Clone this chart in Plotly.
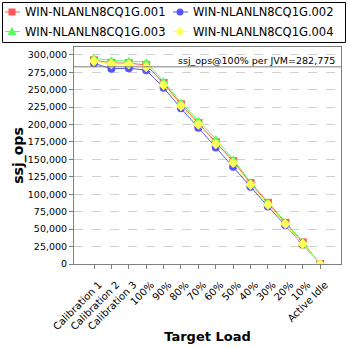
import plotly.graph_objects as go

categories = ["Calibration 1", "Calibration 2", "Calibration 3", "100%", "90%", "80%", "70%",
              "60%", "50%", "40%", "30%", "20%", "10%", "Active Idle"]
series_names = ["WIN-NLANLN8CQ1G.001", "WIN-NLANLN8CQ1G.002", "WIN-NLANLN8CQ1G.003", "WIN-NLANLN8CQ1G.004"]
s001 = [292000, 288500, 288000, 285500, 259500, 229000, 202000, 175000, 147500, 116000, 87700, 59000, 31000, 0]
s002 = [287800, 280000, 280800, 278000, 252700, 223200, 195500, 167000, 139500, 110700, 82500, 55500, 27700, 0]
s003 = [295000, 292000, 291200, 289500, 262000, 231500, 205500, 179000, 150000, 117300, 89000, 60000, 31500, 0]
s004 = [290800, 286800, 286300, 282500, 256500, 226500, 200000, 172000, 145000, 113500, 85000, 57500, 28700, 0]
ref_value = 282775
ref_label = "ssj_ops@100% per JVM=282,775"
y_ticks = list(range(0, 300001, 25000))

colors = ["#FF5555", "#5555FF", "#55FF55", "#FFFF55"]
symbols = ["square", "circle", "triangle-up", "diamond"]
data = [s001, s002, s003, s004]

W, H = 348, 348
ML, MR, MT, MB = 74, 7, 47, 84
PW, PH = W - ML - MR, H - MT - MB


def px(x):
    return (x - ML) / PW


def py(y):
    return (H - MB - y) / PH


fig = go.Figure()
for name, vals, c, s in zip(series_names, data, colors, symbols):
    fig.add_trace(go.Scatter(
        x=categories, y=vals, name=name, mode="lines+markers",
        line=dict(color=c, width=1),
        marker=dict(symbol=s, size=8, color=c),
        showlegend=False,
    ))

fig.add_shape(type="line", xref="paper", x0=0, x1=1, yref="y", y0=ref_value, y1=ref_value,
              line=dict(color="#808080", width=1))
fig.add_annotation(xref="paper", x=px(337), yref="y", y=ref_value, text=ref_label,
                   showarrow=False, xanchor="right", yanchor="bottom", yshift=-1,
                   font=dict(size=9.5, color="black"))

# legend (drawn as layout decorations)
fig.add_shape(type="rect", xref="paper", yref="paper", x0=px(2.5), x1=px(345.5), y0=py(2.5), y1=py(42.5),
              line=dict(color="black", width=1), fillcolor="white", layer="above")
slots = [(12, 12), (180, 12), (12, 31.5), (180, 31.5)]
for (cx, cy), name, c, s in zip(slots, series_names, colors, symbols):
    fig.add_shape(type="line", xref="paper", yref="paper", x0=px(cx - 7), x1=px(cx + 8),
                  y0=py(cy), y1=py(cy), line=dict(color=c, width=1), layer="above")
    r = 3.5
    if s == "square":
        fig.add_shape(type="rect", xref="paper", yref="paper", x0=px(cx - r), x1=px(cx + r),
                      y0=py(cy - r), y1=py(cy + r), line=dict(width=0), fillcolor=c, layer="above")
    elif s == "circle":
        fig.add_shape(type="circle", xref="paper", yref="paper", x0=px(cx - r), x1=px(cx + r),
                      y0=py(cy - r), y1=py(cy + r), line=dict(width=0), fillcolor=c, layer="above")
    elif s == "triangle-up":
        path = f"M {px(cx)} {py(cy - 4.5)} L {px(cx + 4.5)} {py(cy + 3.5)} L {px(cx - 4.5)} {py(cy + 3.5)} Z"
        fig.add_shape(type="path", xref="paper", yref="paper", path=path,
                      line=dict(width=0), fillcolor=c, layer="above")
    else:
        path = (f"M {px(cx)} {py(cy - 4.5)} L {px(cx + 4.5)} {py(cy)} L {px(cx)} {py(cy + 4.5)} "
                f"L {px(cx - 4.5)} {py(cy)} Z")
        fig.add_shape(type="path", xref="paper", yref="paper", path=path,
                      line=dict(width=0), fillcolor=c, layer="above")
    fig.add_annotation(xref="paper", yref="paper", x=px(cx + 11), y=py(cy), text=name,
                       showarrow=False, xanchor="left", yanchor="middle",
                       font=dict(size=11.5, color="black"))

fig.update_layout(
    width=W, height=H,
    margin=dict(l=ML, r=MR, t=MT, b=MB, autoexpand=False),
    paper_bgcolor="white", plot_bgcolor="white",
    font=dict(family="DejaVu Sans", color="black"),
    showlegend=False,
    xaxis=dict(
        type="category", range=[-1.15, 14.2], tickangle=-45,
        tickfont=dict(size=10), showgrid=False,
        ticks="outside", ticklen=4, tickcolor="#808080",
        ticklabelstandoff=6, ticklabelshift=5,
        showline=True, linecolor="#808080", mirror=True,
        title=dict(text="<b>Target Load</b>", font=dict(size=13), standoff=0),
    ),
    yaxis=dict(
        range=[0, 311200], tickvals=y_ticks, tickformat=",d",
        tickfont=dict(size=9.5), showgrid=True, gridcolor="#D0D0D0", griddash="dash",
        ticks="outside", ticklen=4, tickcolor="#808080",
        showline=True, linecolor="#808080", mirror=True, zeroline=False,
        title=dict(text="<b>ssj_ops</b>", font=dict(size=14), standoff=0),
    ),
)

fig.write_html("out.html")
